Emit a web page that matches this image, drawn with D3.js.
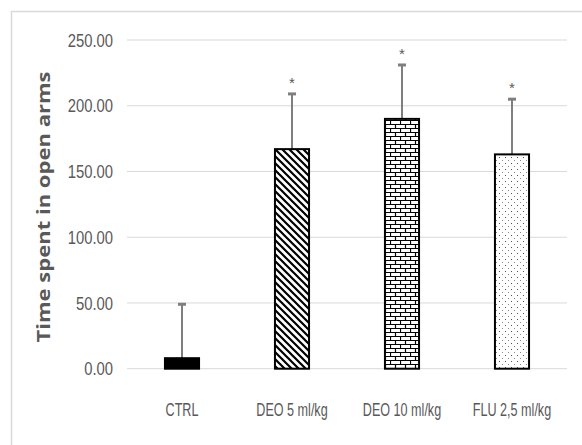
<!DOCTYPE html>
<html>
<head>
<meta charset="utf-8">
<script src="https://cdn.jsdelivr.net/npm/d3@7"></script>
<style>
  body { margin: 0; background: #fff; }
  svg { display: block; }
</style>
</head>
<body>
<div class="chart"></div>
<script>
// Configuration
var width = 582;
var height = 445;
var margin = {top: 40, right: 15, bottom: 76, left: 127};

// data
var categories = ["CTRL", "DEO 5 ml/kg", "DEO 10 ml/kg", "FLU 2,5 ml/kg"];
var means = [8, 167, 190, 163];
var errors = [41, 42, 41, 42];
var signif = [false, true, true, true];
var yTicks = [0, 50, 100, 150, 200, 250];
var fills = ["solid", "diag", "brick", "dots"];

var svg = d3.select(".chart").append("svg")
    .attr("width", width)
    .attr("height", height);

var defs = svg.append("defs");

// diagonal stripes
var diag = defs.append("pattern")
    .attr("id", "diag")
    .attr("patternUnits", "userSpaceOnUse")
    .attr("width", 7).attr("height", 7);
diag.append("rect").attr("width", 7).attr("height", 7).attr("fill", "#fff");
diag.append("path")
    .attr("d", "M-1,-1 L8,8 M-8,-1 L1,8 M6,-1 L15,8")
    .attr("stroke", "#000").attr("stroke-width", 2.2);

// brick pattern
var brick = defs.append("pattern")
    .attr("id", "brick")
    .attr("patternUnits", "userSpaceOnUse")
    .attr("width", 10).attr("height", 8);
brick.append("rect").attr("width", 10).attr("height", 8).attr("fill", "#fff");
brick.append("path")
    .attr("d", "M0,0.5 H10 M0,4.5 H10 M0.5,0 V4 M5.5,4 V8")
    .attr("stroke", "#000").attr("stroke-width", 1.2).attr("fill", "none");

// dotted pattern
var dots = defs.append("pattern")
    .attr("id", "dots")
    .attr("patternUnits", "userSpaceOnUse")
    .attr("width", 6).attr("height", 6);
dots.append("rect").attr("width", 6).attr("height", 6).attr("fill", "#fff");
dots.append("rect").attr("x", 1).attr("y", 1).attr("width", 1).attr("height", 1).attr("fill", "#555");
dots.append("rect").attr("x", 4).attr("y", 4).attr("width", 1).attr("height", 1).attr("fill", "#888");

// outer chart border
svg.append("rect")
    .attr("x", 11.5).attr("y", 11.5)
    .attr("width", 580).attr("height", 440)
    .attr("fill", "none")
    .attr("stroke", "#d9d9d9")
    .attr("stroke-width", 1.5);

var x = d3.scaleBand()
    .domain(categories)
    .range([margin.left, width - margin.right])
    .paddingInner(0.69)
    .paddingOuter(0.345);

var y = d3.scaleLinear()
    .domain([0, 250])
    .range([368.7, margin.top]);

// squeeze text horizontally (narrow font look)
function narrow(sel, sx) {
  sel.each(function() {
    var t = d3.select(this);
    var tx = +t.attr("x") || 0;
    t.attr("x", 0)
     .attr("transform", "translate(" + tx + ",0) scale(" + sx + ",1)");
  });
}

// gridlines
svg.append("g")
    .selectAll("line")
    .data(yTicks)
    .enter().append("line")
    .attr("x1", margin.left)
    .attr("x2", width - margin.right)
    .attr("y1", function(d) { return y(d); })
    .attr("y2", function(d) { return y(d); })
    .attr("stroke", "#d9d9d9")
    .attr("stroke-width", 1);

// y axis labels
var yAxis = d3.axisLeft(y)
    .tickValues(yTicks)
    .tickFormat(d3.format(".2f"))
    .tickSize(0)
    .tickPadding(14);
var yg = svg.append("g")
    .attr("transform", "translate(" + margin.left + ",0)")
    .call(yAxis);
yg.select(".domain").remove();
yg.selectAll("text")
    .attr("fill", "#595959")
    .style("font-family", "'Liberation Sans', sans-serif")
    .style("font-size", "19px")
    .call(narrow, 0.78);

// x axis labels
var xAxis = d3.axisBottom(x).tickSize(0).tickPadding(30);
var xg = svg.append("g")
    .attr("transform", "translate(0," + y(0) + ")")
    .call(xAxis);
xg.select(".domain").remove();
xg.selectAll("text")
    .attr("fill", "#595959")
    .attr("dy", 0)
    .attr("y", 47)
    .style("font-family", "'Liberation Sans', sans-serif")
    .style("font-size", "18px")
    .call(narrow, 0.7);

// y title
svg.append("text")
    .attr("transform", "translate(50,207) rotate(-90)")
    .attr("text-anchor", "middle")
    .attr("fill", "#595959")
    .attr("textLength", 271)
    .attr("lengthAdjust", "spacingAndGlyphs")
    .style("font-family", "'Open Sans', sans-serif")
    .style("font-weight", "bold")
    .style("font-size", "18px")
    .text("Time spent in open arms");

// error bars
var eb = svg.append("g");
eb.selectAll("line.err")
    .data(means)
    .enter().append("line")
    .attr("class", "err")
    .attr("x1", function(d, i) { return x(categories[i]) + x.bandwidth() / 2; })
    .attr("x2", function(d, i) { return x(categories[i]) + x.bandwidth() / 2; })
    .attr("y1", function(d) { return y(d); })
    .attr("y2", function(d, i) { return y(d + errors[i]); })
    .attr("stroke", "#7f7f7f")
    .attr("stroke-width", 2);
eb.selectAll("line.cap")
    .data(means)
    .enter().append("line")
    .attr("class", "cap")
    .attr("x1", function(d, i) { return x(categories[i]) + x.bandwidth() / 2 - 4; })
    .attr("x2", function(d, i) { return x(categories[i]) + x.bandwidth() / 2 + 4; })
    .attr("y1", function(d, i) { return y(d + errors[i]); })
    .attr("y2", function(d, i) { return y(d + errors[i]); })
    .attr("stroke", "#7f7f7f")
    .attr("stroke-width", 3);

// bars
svg.append("g")
    .selectAll("rect")
    .data(means)
    .enter().append("rect")
    .attr("x", function(d, i) { return x(categories[i]); })
    .attr("y", function(d) { return y(d); })
    .attr("width", x.bandwidth())
    .attr("height", function(d) { return y(0) - y(d); })
    .attr("fill", function(d, i) {
      return fills[i] == "solid" ? "#000" : "url(#" + fills[i] + ")";
    })
    .attr("stroke", "#000")
    .attr("stroke-width", 2);

// asterisks
svg.append("g")
    .selectAll("text")
    .data(means)
    .enter().append("text")
    .filter(function(d, i) { return signif[i]; })
    .attr("x", function(d) { var i = means.indexOf(d); return x(categories[i]) + x.bandwidth() / 2; })
    .attr("y", function(d) { var i = means.indexOf(d); return y(d + errors[i]) - 6; })
    .attr("text-anchor", "middle")
    .attr("fill", "#595959")
    .style("font-family", "'Liberation Sans', sans-serif")
    .style("font-size", "15px")
    .text("*");
</script>
</body>
</html>
